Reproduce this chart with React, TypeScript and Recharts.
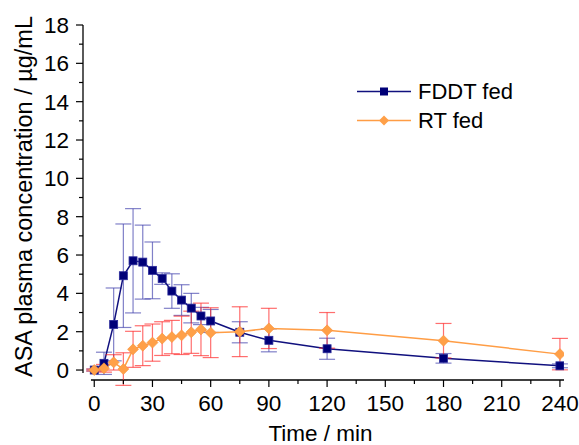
import React from "react";
import {
  ComposedChart,
  Line,
  XAxis,
  YAxis,
  ErrorBar,
  Legend,
  Label,
  ReferenceLine,
} from "recharts";

// sampling times (min)
const times = [0, 5, 10, 15, 20, 25, 30, 35, 40, 45, 50, 55, 60, 75, 90, 120, 180, 240];

// FDDT fed: mean and SD (µg/mL)
const fddtMean = [0, 0.35, 2.38, 4.92, 5.7, 5.63, 5.2, 4.77, 4.12, 3.65, 3.23, 2.82, 2.56, 1.97, 1.55, 1.11, 0.61, 0.22];
const fddtSd = [0.05, 0.58, 1.9, 2.7, 2.72, 1.93, 1.48, 0.3, 0.9, 0.8, 0.77, 0.45, 0.6, 0.55, 0.6, 0.55, 0.25, 0.1];

// RT fed: mean and SD (µg/mL)
const rtMean = [0, 0.09, 0.4, 0.05, 1.08, 1.27, 1.43, 1.64, 1.72, 1.81, 1.97, 2.12, 1.95, 2.0, 2.17, 2.07, 1.53, 0.83];
const rtSd = [0.05, 0.2, 0.4, 0.85, 0.94, 1.04, 0.97, 0.88, 0.87, 1.0, 1.1, 1.37, 1.3, 1.3, 1.05, 0.93, 0.9, 0.82];

const xTicks = [0, 15, 30, 45, 60, 75, 90, 105, 120, 135, 150, 165, 180, 195, 210, 225, 240];
const yTicks = [0, 1, 2, 3, 4, 5, 6, 7, 8, 9, 10, 11, 12, 13, 14, 15, 16, 17, 18];

const seriesNames = ["FDDT fed", "RT fed"];

const data = times.map((t, i) => ({
  t,
  fddt: fddtMean[i],
  fddtErr: fddtSd[i],
  rt: rtMean[i],
  rtErr: rtSd[i],
}));

const FONT = "'Liberation Sans', Arial, sans-serif";
const NAVY = "#10107e";
const ORANGE = "#ff9d45";

const SquareDot = (props: any) => {
  const { cx, cy } = props;
  if (cx == null || cy == null) return null;
  return <rect x={cx - 4} y={cy - 4} width={8} height={8} fill="#000078" stroke="#2a2a9a" strokeWidth={0.8} />;
};

const DiamondDot = (props: any) => {
  const { cx, cy } = props;
  if (cx == null || cy == null) return null;
  const r = 5.5;
  return (
    <polygon
      points={`${cx},${cy - r} ${cx + r},${cy} ${cx},${cy + r} ${cx - r},${cy}`}
      fill="#ffa048"
      stroke="#f7913a"
      strokeWidth={0.6}
    />
  );
};

const XTick = (props: any) => {
  const { x, y, payload } = props;
  const major = payload.value % 30 === 0;
  return (
    <g>
      <line x1={x} y1={y} x2={x} y2={y + (major ? 7 : 4)} stroke="#000" strokeWidth={1.2} />
      {major && (
        <text x={x} y={y + 31} textAnchor="middle" fontSize={22.5} fontFamily={FONT} fill="#000">
          {payload.value}
        </text>
      )}
    </g>
  );
};

const YTick = (props: any) => {
  const { x, y, payload } = props;
  const major = payload.value % 2 === 0;
  return (
    <g>
      <line x1={x} y1={y} x2={x - (major ? 7 : 4)} y2={y} stroke="#000" strokeWidth={1.2} />
      {major && (
        <text x={x - 14} y={y + 8} textAnchor="end" fontSize={22.5} fontFamily={FONT} fill="#000">
          {payload.value}
        </text>
      )}
    </g>
  );
};

const renderLegend = () => (
  <div style={{ fontFamily: FONT, fontSize: 22, color: "#000", lineHeight: "29px" }}>
    {seriesNames.map((name, i) => (
      <div key={name} style={{ display: "flex", alignItems: "center" }}>
        <svg width={56} height={29} style={{ marginRight: 6 }}>
          <line x1={1} y1={14.5} x2={55} y2={14.5} stroke={i === 0 ? NAVY : ORANGE} strokeWidth={1.5} />
          {i === 0 ? (
            <rect x={24} y={10.5} width={8} height={8} fill="#000078" />
          ) : (
            <polygon points="28,9.5 33,14.5 28,19.5 23,14.5" fill="#ffa048" />
          )}
        </svg>
        <span>{name}</span>
      </div>
    ))}
  </div>
);

export default function App() {
  return (
    <div style={{ position: "absolute", left: 0, top: 0, width: 579, height: 445, background: "#fff" }}>
      <ComposedChart width={579} height={445} data={data} margin={{ top: 25, right: 15, bottom: 5, left: 8 }}>
        <XAxis
          dataKey="t"
          type="number"
          domain={[-5.8, 242.1]}
          ticks={xTicks}
          interval={0}
          axisLine={false}
          tickLine={false}
          tickSize={0}
          tickMargin={0}
          height={60}
          tick={<XTick />}
          allowDataOverflow
        >
          <Label
            content={({ viewBox }: any) => (
              <text
                x={viewBox.x + viewBox.width / 2 - 3}
                y={viewBox.y + 61}
                textAnchor="middle"
                fontSize={22.5}
                fontFamily={FONT}
                fill="#000"
              >
                Time / min
              </text>
            )}
          />
        </XAxis>
        <YAxis
          type="number"
          domain={[-0.52, 18]}
          ticks={yTicks}
          interval={0}
          axisLine={false}
          tickLine={false}
          tickSize={0}
          tickMargin={0}
          width={75}
          tick={<YTick />}
          allowDataOverflow
        >
          <Label
            content={({ viewBox }: any) => {
              const cx = viewBox.x + 16;
              const cy = viewBox.y + viewBox.height / 2 - 6;
              return (
                <text
                  x={cx}
                  y={cy}
                  transform={`rotate(-90 ${cx} ${cy})`}
                  textAnchor="middle"
                  dominantBaseline="central"
                  fontSize={23.5}
                  fontFamily={FONT}
                  fill="#000"
                >
                  ASA plasma concentration / µg/mL
                </text>
              );
            }}
          />
        </YAxis>

        {/* detached Origin-style axis lines */}
        <ReferenceLine
          segment={[{ x: -1.7, y: -0.52 }, { x: 242.1, y: -0.52 }]}
          stroke="#000"
          strokeWidth={1.3}
          ifOverflow="visible"
        />
        <ReferenceLine
          segment={[{ x: -5.8, y: -0.16 }, { x: -5.8, y: 18 }]}
          stroke="#000"
          strokeWidth={1.3}
          ifOverflow="visible"
        />

        <Legend
          layout="horizontal"
          verticalAlign="middle"
          align="center"
          wrapperStyle={{ left: 356, top: 77, width: 200 }}
          content={renderLegend}
        />

        <Line
          dataKey="fddt"
          name={seriesNames[0]}
          stroke={NAVY}
          strokeWidth={1.5}
          dot={<SquareDot />}
          activeDot={false}
          isAnimationActive={false}
        >
          <ErrorBar dataKey="fddtErr" width={8} stroke="#4a4ab0" strokeOpacity={0.7} strokeWidth={1.2} direction="y" isAnimationActive={false} />
        </Line>
        <Line
          dataKey="rt"
          name={seriesNames[1]}
          stroke={ORANGE}
          strokeWidth={1.5}
          dot={<DiamondDot />}
          activeDot={false}
          isAnimationActive={false}
        >
          <ErrorBar dataKey="rtErr" width={8} stroke="#ff2020" strokeOpacity={0.65} strokeWidth={1.2} direction="y" isAnimationActive={false} />
        </Line>
      </ComposedChart>
    </div>
  );
}
